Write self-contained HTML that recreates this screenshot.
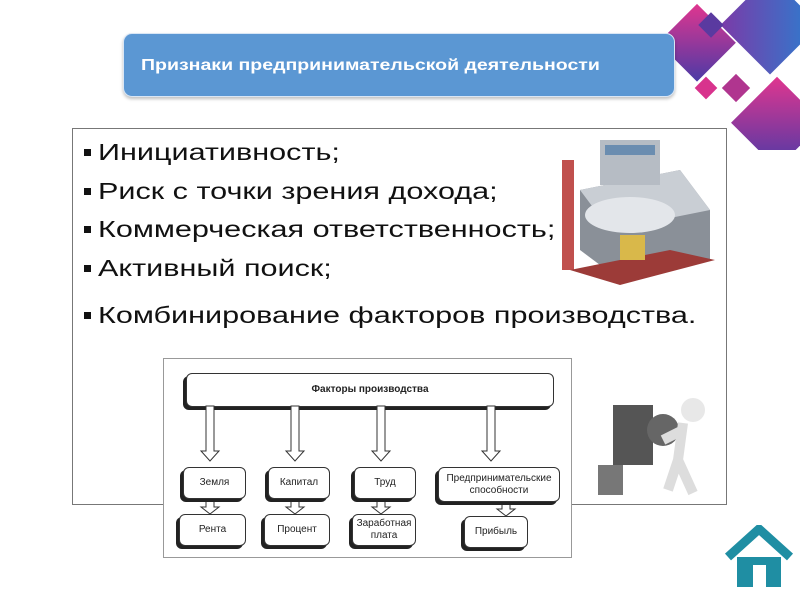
<!DOCTYPE html>
<html><head><meta charset="utf-8"><style>
body{margin:0;width:800px;height:600px;background:#fff;position:relative;overflow:hidden;font-family:"Liberation Sans",sans-serif}
.abs{position:absolute}
.hdr{left:123px;top:33px;width:552px;height:64px;background:#5b97d3;border:1px solid #d9e6f5;border-radius:9px;box-shadow:0 2px 3px rgba(0,0,0,.25);color:#fff;font-weight:bold;font-size:16px;line-height:64px;box-sizing:border-box}
.hdr span{position:absolute;left:17px;transform:scaleX(1.22);transform-origin:left;white-space:nowrap}
.cont{left:72px;top:128px;width:655px;height:377px;border:1px solid #777;box-sizing:border-box}
ul{position:absolute;left:82px;top:137px;margin:0;padding:0;list-style:none;font-size:23px;color:#111}
li{height:38.5px;line-height:30px;position:relative;white-space:nowrap}
li:last-child{margin-top:9px}
li:before{content:"";position:absolute;left:2px;top:12px;width:7px;height:7px;background:#111}
li span{position:absolute;left:16px;transform:scaleX(1.33);transform-origin:left}
.dg{left:163px;top:358px;width:409px;height:200px;background:#fff;border:1px solid #999;box-sizing:border-box}
.b{position:absolute;background:#fff;border:1px solid #333;border-radius:6px;box-shadow:-3px 3px 0 #222;font-size:10px;text-align:center;display:flex;align-items:center;justify-content:center;line-height:12px;color:#222}
</style></head><body>
<svg class="abs" style="left:580px;top:0" width="220" height="150">
<defs><linearGradient id="g" x1="0" y1="0" x2="1" y2="1"><stop offset="0" stop-color="#e0368f"/><stop offset="1" stop-color="#4b3aa6"/></linearGradient>
<linearGradient id="g2" x1="1" y1="0" x2="0" y2="1"><stop offset="0" stop-color="#2a7fd0"/><stop offset="1" stop-color="#7b3aa8"/></linearGradient></defs>
<rect x="90" y="15" width="55" height="55" transform="rotate(45 117 42)" fill="url(#g)"/>
<rect x="155" y="-10" width="70" height="70" transform="rotate(45 190 25)" fill="url(#g2)"/>
<rect x="165" y="90" width="65" height="65" transform="rotate(45 197 122)" fill="url(#g)"/>
<rect x="118" y="80" width="16" height="16" transform="rotate(45 126 88)" fill="#d8338d"/>
<rect x="146" y="78" width="20" height="20" transform="rotate(45 156 88)" fill="#b0358f"/>
<rect x="122" y="16" width="18" height="18" transform="rotate(45 131 25)" fill="#5a3aa0"/>
</svg>
<div class="abs hdr"><span>Признаки предпринимательской деятельности</span></div>
<div class="abs cont"></div>
<ul><li><span>Инициативность;</span></li><li><span>Риск с точки зрения дохода;</span></li><li><span>Коммерческая ответственность;</span></li><li><span>Активный поиск;</span></li><li><span>Комбинирование факторов производства.</span></li></ul>
<svg class="abs" style="left:550px;top:130px" width="170" height="160">
<rect x="12" y="30" width="12" height="110" fill="#c0504d"/>
<polygon points="30,60 130,40 160,80 160,130 70,150 30,120" fill="#8a9098"/>
<polygon points="30,60 130,40 160,80 60,100" fill="#c9ced4"/>
<rect x="50" y="10" width="60" height="45" fill="#b6bcc4"/>
<rect x="55" y="15" width="50" height="10" fill="#6b8db0"/>
<ellipse cx="80" cy="85" rx="45" ry="18" fill="#e3e6ea"/>
<polygon points="20,140 70,155 165,130 120,120" fill="#9c3b38"/>
<rect x="70" y="105" width="25" height="25" fill="#d9b84a"/>
</svg>
<div class="abs dg">
<div class="b" style="left:22px;top:14px;width:366px;height:32px;font-weight:bold">Факторы производства</div>
<svg class="abs" style="left:0;top:0" width="409" height="200" fill="#fff" stroke="#333">
<path d="M42,47v45h-5l9,10 9-10h-5v-45z"/><path d="M127,47v45h-5l9,10 9-10h-5v-45z"/><path d="M213,47v45h-5l9,10 9-10h-5v-45z"/><path d="M323,47v45h-5l9,10 9-10h-5v-45z"/>
<path d="M42,140v8h-5l9,7 9-7h-5v-8z"/><path d="M127,140v8h-5l9,7 9-7h-5v-8z"/><path d="M213,140v8h-5l9,7 9-7h-5v-8z"/><path d="M338,142v8h-5l9,7 9-7h-5v-8z"/>
</svg>
<div class="b" style="left:19px;top:108px;width:61px;height:30px">Земля</div>
<div class="b" style="left:104px;top:108px;width:60px;height:30px">Капитал</div>
<div class="b" style="left:190px;top:108px;width:60px;height:30px">Труд</div>
<div class="b" style="left:274px;top:108px;width:120px;height:33px">Предпринимательские<br>способности</div>
<div class="b" style="left:15px;top:155px;width:65px;height:30px">Рента</div>
<div class="b" style="left:100px;top:155px;width:64px;height:30px">Процент</div>
<div class="b" style="left:188px;top:155px;width:62px;height:30px">Заработная<br>плата</div>
<div class="b" style="left:300px;top:157px;width:62px;height:30px">Прибыль</div>
</div>
<svg class="abs" style="left:588px;top:385px" width="130" height="115">
<rect x="25" y="20" width="40" height="60" fill="#555"/><circle cx="75" cy="45" r="16" fill="#666"/>
<rect x="10" y="80" width="25" height="30" fill="#777"/><circle cx="105" cy="25" r="12" fill="#e8e8e8"/>
<path d="M95,38 L90,75 L80,105 M95,45 L75,55 M90,75 L105,108" stroke="#ddd" stroke-width="10" fill="none"/>
</svg>
<svg class="abs" style="left:722px;top:525px" width="74" height="65">
<path d="M6,32 L37,4 L68,32" stroke="#1f8ea3" stroke-width="9" fill="none"/>
<rect x="15" y="32" width="44" height="30" fill="#1f8ea3"/><rect x="31" y="40" width="13" height="22" fill="#fff"/>
</svg>
</body></html>
